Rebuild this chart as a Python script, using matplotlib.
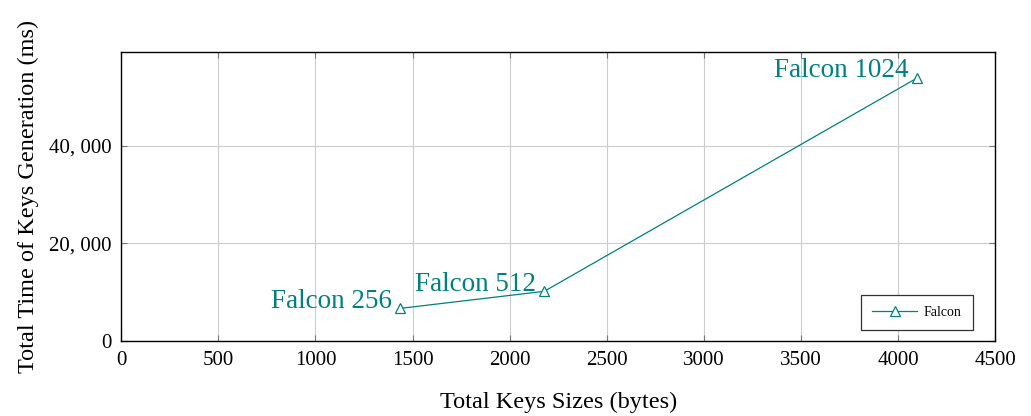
import matplotlib.pyplot as plt

# key sizes (bytes) and key generation time (ms)
labels = ['Falcon 256', 'Falcon 512', 'Falcon 1024']
key_sizes = [1436, 2178, 4098]
gen_time = [6700, 10200, 53900]

teal = '#008080'
plt.rcParams['font.family'] = ['Liberation Serif', 'DejaVu Serif']

fig = plt.figure(figsize=(10.31, 4.16), dpi=100)
ax = fig.add_axes([0.1175, 0.18, 0.848, 0.695])

ax.plot(key_sizes, gen_time, color=teal, lw=0.9, marker='^', markersize=7,
        markerfacecolor='white', markeredgecolor=teal, markeredgewidth=0.9,
        label='Falcon', zorder=3)

for lab, x, y in zip(labels, key_sizes, gen_time):
    ax.annotate(lab, (x, y), xytext=(-6, 5), textcoords='offset points',
                ha='right', va='center', color=teal, fontsize=19.5)

ax.set_xlim(0, 4500)
ax.set_ylim(0, 59200)
ax.set_xticks(range(0, 4501, 500))
ax.set_yticks([0, 20000, 40000])
ax.set_yticklabels(['0', '20, 000', '40, 000'])
ax.tick_params(direction='in', top=True, right=True, labelsize=15,
               color='#777777', length=4)
ax.tick_params(axis='x', pad=7)
ax.tick_params(axis='y', pad=7)
ax.grid(True, color='#cccccc', lw=0.8)
ax.set_axisbelow(True)
for s in ax.spines.values():
    s.set_color('black')
    s.set_linewidth(1.0)

ax.set_xlabel('Total Keys Sizes (bytes)', fontsize=17.5, labelpad=16)
ax.set_ylabel('Total Time of Keys Generation (ms)', fontsize=17.5, labelpad=7)

leg = ax.legend(loc='lower right', fontsize=10, fancybox=False, framealpha=1,
                edgecolor='#333333', borderpad=0.8, handlelength=3.2,
                handletextpad=0.5, borderaxespad=0,
                bbox_to_anchor=(0.974, 0.038))
leg.get_frame().set_linewidth(0.9)

plt.savefig('out.png', dpi=100)
